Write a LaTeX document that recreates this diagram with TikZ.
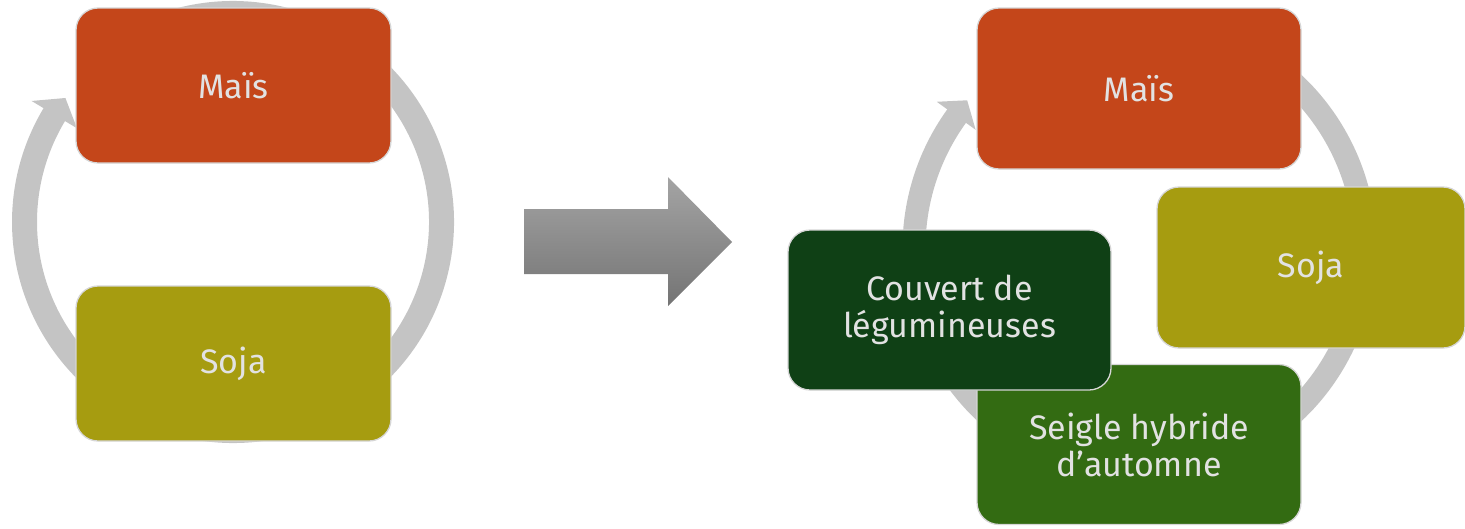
\documentclass[tikz,border=0pt]{standalone}
\usepackage{fontspec}
\setmainfont{Fira Sans}
\definecolor{maiscol}{HTML}{C4461A}
\definecolor{sojacol}{HTML}{A69C10}
\definecolor{couvcol}{HTML}{0F4015}
\definecolor{seigcol}{HTML}{336B12}
\definecolor{ringgray}{HTML}{C4C4C4}
\definecolor{boxline}{HTML}{D6D6D6}
\definecolor{txtcol}{HTML}{E2E2E2}
\definecolor{arrtop}{HTML}{A4A4A4}
\definecolor{arrbot}{HTML}{747474}
\begin{document}
\begin{tikzpicture}[x=1pt,y=-1pt,
  box/.style={draw=boxline, line width=1.3pt, rounded corners=22pt, text=txtcol,
    font=\fontsize{34}{37}\selectfont, align=center, inner sep=0pt},
  ringL/.style={draw=ringgray, line width=25pt},
  ringR/.style={draw=ringgray, line width=23pt},
]
\useasboundingbox (0,0) rectangle (1465,528);
\clip (0,0) rectangle (1465,528);
% ---------- left cycle ----------
\coordinate (cl) at (233,222);
\draw[ringL] ([shift={(-479:208.5)}]cl) arc[start angle=-479, end angle=-148.5, radius=208.5];
\fill[ringgray] ([shift={(-149:235)}]cl) -- ([shift={(-143.5:208.5)}]cl) -- ([shift={(-149:182)}]cl) -- cycle;
\node[box, fill=maiscol, minimum width=315pt, minimum height=155pt] (maisL) at (233.5,85.5) {Maïs};
\node[box, fill=sojacol, minimum width=315pt, minimum height=155pt] (sojaL) at (233.5,363.5) {Soja};
% ---------- big arrow ----------
\shade[top color=arrtop, bottom color=arrbot] (524,209) -- (668,209) -- (668,177) -- (732,242) -- (668,306) -- (668,274) -- (524,274) -- cycle;
% ---------- right cycle ----------
\coordinate (cr) at (1139.5,248);
\draw[ringR] ([shift={(-480:225.5)}]cr) arc[start angle=-480, end angle=-143.7, radius=225.5];
\fill[ringgray] ([shift={(-144.2:250)}]cr) -- ([shift={(-139.4:227)}]cr) -- ([shift={(-144.2:202)}]cr) -- cycle;
\node[box, fill=maiscol, minimum width=324pt, minimum height=161pt] (maisR) at (1139,88.5) {Maïs};
\node[box, fill=sojacol, minimum width=308pt, minimum height=161pt] (sojaR) at (1311,267.5) {Soja};
\node[box, fill=seigcol, minimum width=324pt, minimum height=160pt] (seigR) at (1139,444.5) {Seigle hybride\\d’automne};
\node[box, fill=couvcol, minimum width=323pt, minimum height=160pt] (couvR) at (949.5,310) {Couvert de\\légumineuses};
\end{tikzpicture}
\end{document}
